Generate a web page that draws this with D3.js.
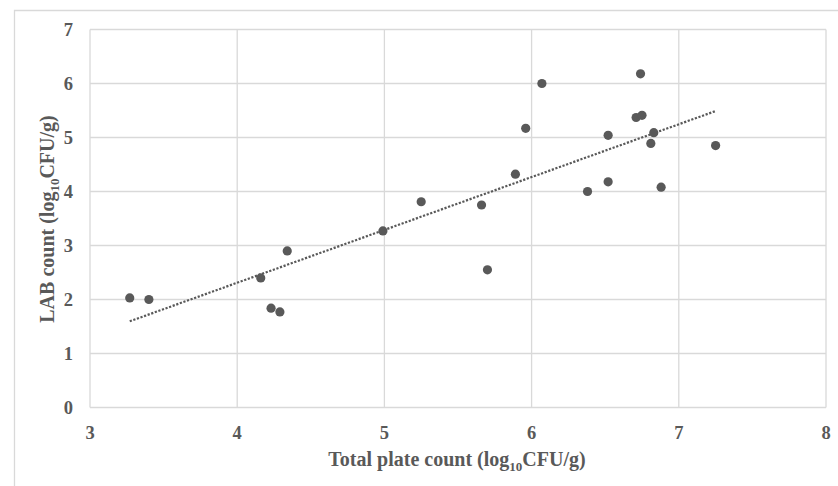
<!DOCTYPE html>
<html>
<head>
<meta charset="utf-8">
<script src="https://cdn.jsdelivr.net/npm/d3@7"></script>
<style>
  body { margin: 0; background: #fff; }
  text { font-family: "Liberation Serif", "Times New Roman", serif; font-weight: bold; fill: #595959; }
</style>
</head>
<body>
<div id="chart"></div>
<script>
// data
var tpc = [3.27, 3.40, 4.16, 4.23, 4.29, 4.34, 4.99, 5.25, 5.66, 5.70, 5.89, 5.96, 6.07,
           6.38, 6.52, 6.52, 6.71, 6.75, 6.74, 6.83, 6.81, 6.88, 7.25];
var lab = [2.03, 2.00, 2.40, 1.84, 1.77, 2.90, 3.27, 3.81, 3.75, 2.55, 4.32, 5.17, 6.00,
           4.00, 5.04, 4.18, 5.37, 5.41, 6.18, 5.09, 4.89, 4.08, 4.85];
var xTicks = [3, 4, 5, 6, 7, 8];
var yTicks = [0, 1, 2, 3, 4, 5, 6, 7];

var W = 838, H = 486;
var margin = {top: 29.5, right: 12, bottom: 78.5, left: 90};

var svg = d3.select("#chart")
  .append("svg")
    .attr("width", W)
    .attr("height", H);

// outer chart frame (only top and left visible)
svg.append("path")
  .attr("d", "M14.5," + H + "V10.5H" + W)
  .attr("fill", "none")
  .attr("stroke", "#d9d9d9")
  .attr("stroke-width", 1.3);

var x = d3.scaleLinear().domain([3, 8]).range([margin.left, W - margin.right]);
var y = d3.scaleLinear().domain([0, 7]).range([H - margin.bottom, margin.top]);

// grid
svg.append("g")
  .selectAll("line")
  .data(xTicks)
  .enter().append("line")
    .attr("x1", d => x(d)).attr("x2", d => x(d))
    .attr("y1", y(0)).attr("y2", y(7))
    .attr("stroke", "#d9d9d9").attr("stroke-width", 1.3);

svg.append("g")
  .selectAll("line")
  .data(yTicks)
  .enter().append("line")
    .attr("x1", x(3)).attr("x2", x(8))
    .attr("y1", d => y(d)).attr("y2", d => y(d))
    .attr("stroke", "#d9d9d9").attr("stroke-width", 1.3);

// tick labels
svg.append("g")
  .selectAll("text")
  .data(xTicks)
  .enter().append("text")
    .attr("x", d => x(d))
    .attr("y", y(0) + 31)
    .attr("text-anchor", "middle")
    .style("font-size", "18.5px")
    .text(d => d);

svg.append("g")
  .selectAll("text")
  .data(yTicks)
  .enter().append("text")
    .attr("x", x(3) - 17)
    .attr("y", d => y(d) + 6)
    .attr("text-anchor", "end")
    .style("font-size", "18.5px")
    .text(d => d);

// linear trendline (least squares)
var mx = d3.mean(tpc), my = d3.mean(lab);
var sxy = d3.sum(tpc, (v, i) => (v - mx) * (lab[i] - my)),
    sxx = d3.sum(tpc, v => (v - mx) * (v - mx));
var slope = sxy / sxx, icpt = my - slope * mx;
var x0 = d3.min(tpc), x1 = d3.max(tpc);

svg.append("line")
  .attr("x1", x(x0)).attr("y1", y(icpt + slope * x0))
  .attr("x2", x(x1)).attr("y2", y(icpt + slope * x1))
  .attr("stroke", "#595959")
  .attr("stroke-width", 2.2)
  .attr("stroke-dasharray", "2.2,1.6");

// dots
svg.selectAll(".dots")
  .data(tpc)
  .enter().append("circle")
    .attr("class", "dots")
    .attr("r", 4.6)
    .attr("cx", d => x(d))
    .attr("cy", (d, i) => y(lab[i]))
    .attr("fill", "#595959");

// axis titles
var xt = svg.append("text")
  .attr("x", 457)
  .attr("y", 466)
  .attr("text-anchor", "middle")
  .style("font-size", "20px");
xt.append("tspan").text("Total plate count (log");
xt.append("tspan").attr("dy", 5).style("font-size", "13px").text("10");
xt.append("tspan").attr("dy", -5).text("CFU/g)");

var yt = svg.append("text")
  .attr("transform", "translate(54," + 219 + ") rotate(-90)")
  .attr("text-anchor", "middle")
  .style("font-size", "20px");
yt.append("tspan").text("LAB count (log");
yt.append("tspan").attr("dy", 5).style("font-size", "13px").text("10");
yt.append("tspan").attr("dy", -5).text("CFU/g)");
</script>
</body>
</html>
